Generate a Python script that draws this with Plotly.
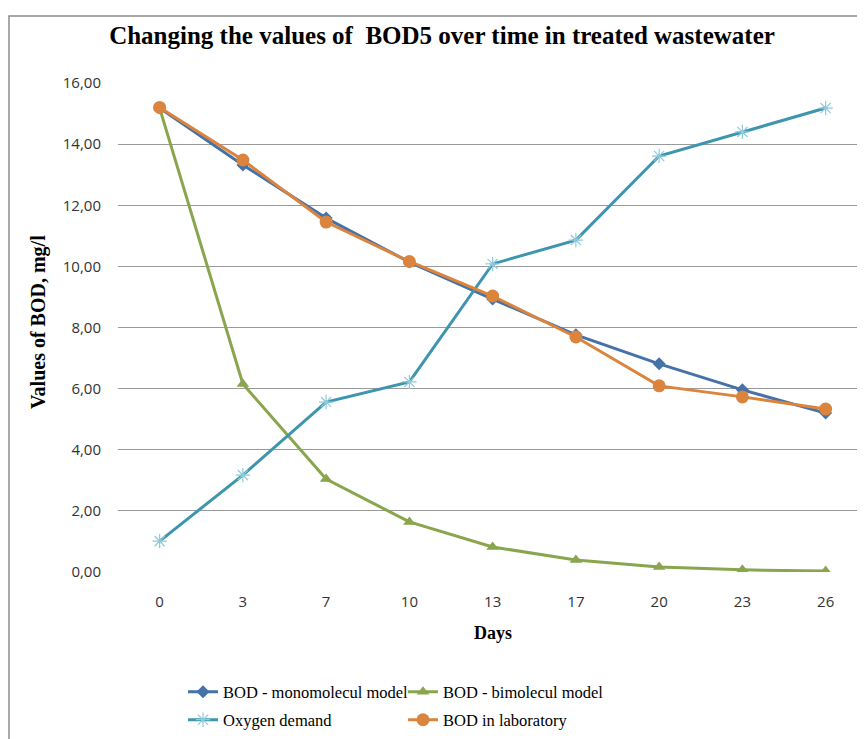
import plotly.graph_objects as go

days = ["0", "3", "7", "10", "13", "17", "20", "23", "26"]
bod_mono = [15.18, 13.32, 11.58, 10.14, 8.93, 7.76, 6.81, 5.96, 5.20]
bod_bimol = [15.18, 6.15, 3.04, 1.64, 0.82, 0.39, 0.16, 0.07, 0.03]
oxygen = [1.01, 3.17, 5.56, 6.22, 10.08, 10.86, 13.61, 14.40, 15.18]
bod_lab = [15.20, 13.48, 11.45, 10.16, 9.03, 7.69, 6.09, 5.73, 5.33]

# page body adds an 8px offset; figure sized so it ends at the window edge
OFF = 8
W, H = 865 - OFF, 739 - OFF
PL, PT, PB = 118, 83, 572          # plot-area edges in screen pixels
L, T = PL - OFF, PT - OFF
B = H - (PB - OFF)
R = 0
pw = W - L - R
ph = H - T - B

def px2x(p):
    return (p - PL) / pw

def px2y(p):
    return (PB - p) / ph

fig = go.Figure()
fig.add_trace(go.Scatter(x=days, y=bod_mono, name="BOD - monomolecul model", mode="lines+markers",
                         line=dict(color="#4572A7", width=3), legend="legend",
                         marker=dict(symbol="diamond", size=10, color="#4572A7")))
fig.add_trace(go.Scatter(x=days, y=bod_bimol, name="BOD - bimolecul model", mode="lines+markers",
                         line=dict(color="#89A54E", width=3), legend="legend",
                         marker=dict(symbol="triangle-up", size=11, color="#89A54E")))
fig.add_trace(go.Scatter(x=days, y=oxygen, name="Oxygen demand", mode="lines+markers",
                         line=dict(color="#3D96AE", width=3), legend="legend2",
                         marker=dict(symbol="asterisk-open", size=12, color="#8FCADB",
                                     line=dict(color="#8FCADB", width=1.2))))
fig.add_trace(go.Scatter(x=days, y=bod_lab, name="BOD in laboratory", mode="lines+markers",
                         line=dict(color="#DB843D", width=3), legend="legend2",
                         marker=dict(symbol="circle", size=13, color="#DB843D")))

legend_common = dict(orientation="h", xanchor="left", yanchor="middle",
                     entrywidth=175, entrywidthmode="pixels", traceorder="normal",
                     font=dict(family="Liberation Serif", size=16.5, color="black"),
                     itemwidth=30, tracegroupgap=0, bgcolor="rgba(0,0,0,0)")

fig.update_layout(
    width=W, height=H,
    margin=dict(l=L, r=R, t=T, b=B),
    paper_bgcolor="white", plot_bgcolor="white",
    separators=", ",
    showlegend=True,
    title=dict(text="Changing the values of \u00a0BOD5 over time in treated wastewater",
               x=(442 - OFF) / W, xanchor="center", xref="container",
               y=1 - (35 - OFF) / H, yanchor="middle", yref="container",
               font=dict(family="Liberation Serif", size=25, color="black", weight="bold")),
    xaxis=dict(type="category", range=[-0.5, -0.5 + pw / 83.25], showgrid=False,
               showline=False, zeroline=False, ticks="", ticklabelstandoff=19,
               tickfont=dict(family="Open Sans", size=15, color="#333333")),
    yaxis=dict(range=[0, 16], dtick=2, tickformat=".2f", showgrid=True,
               gridcolor="#9a9a9a", gridwidth=1, zeroline=False, showline=False,
               ticks="", ticklabelstandoff=16,
               tickfont=dict(family="Open Sans", size=15, color="#333333")),
    legend=dict(x=px2x(183), y=px2y(692), **legend_common),
    legend2=dict(x=px2x(183), y=px2y(720), **legend_common),
    annotations=[
        dict(text="Values of BOD, mg/l", x=px2x(38), y=px2y(322), xref="paper", yref="paper",
             xanchor="center", yanchor="middle", textangle=-90, showarrow=False,
             font=dict(family="Liberation Serif", size=20, color="black", weight="bold")),
        dict(text="Days", x=px2x(493), y=px2y(633), xref="paper", yref="paper",
             xanchor="center", yanchor="middle", showarrow=False,
             font=dict(family="Liberation Serif", size=18, color="black", weight="bold")),
    ],
    shapes=[
        dict(type="rect", xref="paper", yref="paper",
             x0=px2x(9), x1=px2x(900), y0=px2y(780), y1=px2y(16),
             line=dict(color="#8c8c8c", width=1.5), fillcolor="rgba(0,0,0,0)", layer="below"),
    ],
)

fig.write_html("out.html")
